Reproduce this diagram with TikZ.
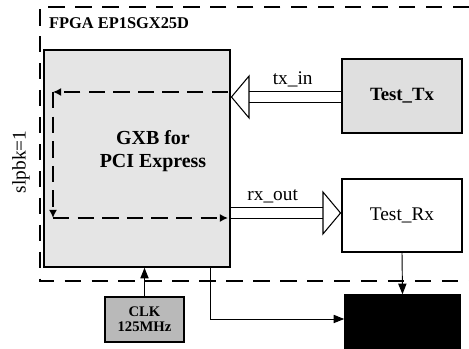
\documentclass[tikz,border=0pt]{standalone}
\usepackage{fontspec}
\setmainfont{Liberation Serif}
\usetikzlibrary{arrows.meta,positioning}

\begin{document}
\begin{tikzpicture}[x=0.03cm, y=-0.03cm, >={Triangle[length=9pt,width=7pt]},
                    block/.style={draw, line width=1.3pt, inner sep=0pt, align=center},
                    hollow/.style={draw, line width=0.9pt, double=white, double distance=8pt, -{Triangle[open, length=16pt, width=38pt, line width=0.9pt]}},
                    lpbk/.style={line width=2.2pt, dash pattern=on 14pt off 7pt, -{Latex[length=7pt,width=7pt]}},
                    frame/.style={line width=1.2pt, dash pattern=on 14pt off 9pt}]
                \tikzstyle{every node}=[font=\fontsize{16.5}{19}\selectfont]

                  \useasboundingbox (0,0) rectangle (469,349);

                  \node[block, fill=gray!20, minimum width=5.58cm, minimum height=6.51cm] (gxb) at (137,158.5) {};
                  \node[align=center, font=\fontsize{17}{20}\selectfont\bfseries] (gxbtxt) at (153,151) {GXB for\\PCI Express};
                  \node[block, fill=gray!25, minimum width=3.6cm, minimum height=2.22cm, font=\fontsize{16}{18}\selectfont\bfseries] (tx) at (402,96) {Test\_Tx};
                  \node[block, fill=white, minimum width=3.6cm, minimum height=2.19cm] (rx) at (402,215.5) {Test\_Rx};
                  \node[block, fill=black, minimum width=3.45cm, minimum height=1.62cm] (blk) at (402.5,322) {};
                  \node[block, fill=gray!55, minimum width=2.37cm, minimum height=1.35cm, font=\fontsize{12.5}{13}\selectfont\bfseries] (clk) at (144.5,319.5) {CLK\\125MHz};

                  \node[anchor=west, font=\fontsize{14}{16}\selectfont\bfseries] (fpga) at (45,23) {FPGA EP1SGX25D};
                  \node[rotate=90] (slpbk) at (21,162) {slpbk=1};

                  \draw[frame] (469,7) -| (40,281) -- (469,281);

                  \coordinate (l1) at (228,92);
                  \coordinate (l2) at (53,92);
                  \coordinate (l3) at (53,218);
                  \coordinate (l4) at (228,218);
                  \draw[lpbk] (l1) -- (l2);
                  \draw[lpbk] (l2) -- (l3);
                  \draw[lpbk] (l3) -- (l4);

                  \draw[hollow] (tx.west |- 0,97) -- (gxb.east |- 0,97) node[midway, above=5pt, xshift=0.2cm] {tx\_in};
                  \draw[hollow] (gxb.east |- 0,213) -- (rx.west |- 0,213) node[midway, above=5pt, xshift=-0.4cm] {rx\_out};

                  \draw[->, line width=0.8pt] (rx.south) -- (blk.north);
                  \draw[->, line width=0.8pt] (clk.north) -- (clk.north |- gxb.south);
                  \draw[->, line width=0.8pt] ([xshift=-0.6cm]gxb.south east) |- (blk.west |- 0,319);

\end{tikzpicture}
\end{document}
